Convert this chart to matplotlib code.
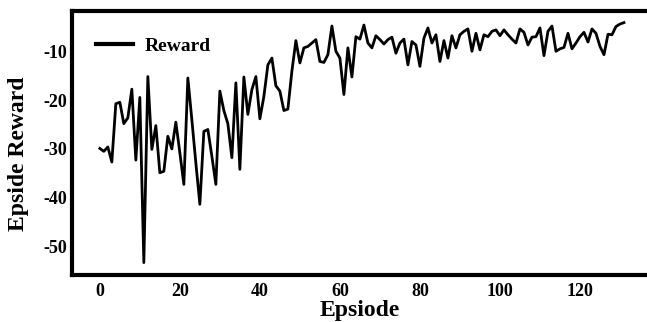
import numpy as np
import matplotlib
matplotlib.use("Agg")
import matplotlib.pyplot as plt

# reward per episode
reward = [
    -29.9, -30.5, -29.6, -32.7, -20.7, -20.4, -24.8, -23.6, -17.7, -32.3,
    -19.4, -53.4, -15.1, -30.1, -25.2, -34.9, -34.6, -27.4, -30.0, -24.5,
    -30.8, -37.3, -15.4, -24.0, -32.9, -41.4, -26.4, -26.0, -31.5, -37.3,
    -18.1, -22.1, -24.8, -31.8, -16.4, -34.2, -15.2, -22.9, -17.8, -15.1,
    -23.8, -19.2, -12.7, -11.3, -17.0, -18.1, -22.1, -21.8, -14.0, -7.7,
    -12.3, -9.2, -8.9, -8.2, -7.5, -12.0, -12.2, -10.6, -4.7, -9.9,
    -11.3, -18.8, -9.2, -15.2, -6.9, -7.4, -4.5, -8.2, -9.2, -6.7,
    -7.5, -8.4, -7.5, -7.0, -10.3, -8.2, -7.4, -12.7, -7.9, -8.6,
    -13.0, -7.2, -5.1, -8.2, -6.5, -12.0, -7.7, -11.3, -6.7, -9.2,
    -6.5, -5.8, -5.3, -9.9, -6.2, -9.6, -6.5, -6.9, -5.8, -5.5,
    -6.7, -5.5, -6.5, -7.4, -8.2, -5.3, -6.0, -8.6, -7.0, -6.9,
    -5.1, -10.8, -5.8, -4.7, -9.9, -9.4, -9.1, -6.2, -9.4, -8.2,
    -6.9, -6.0, -8.0, -5.3, -6.2, -8.9, -10.6, -6.4, -6.5, -4.8,
    -4.3, -4.0,
]
episode = np.arange(len(reward))

x_ticks = [0, 20, 40, 60, 80, 100, 120]
y_ticks = [-50, -40, -30, -20, -10]

plt.rcParams["font.family"] = "Liberation Serif"
plt.rcParams["font.weight"] = "bold"
plt.rcParams["axes.unicode_minus"] = False

fig = plt.figure(figsize=(6.47, 3.22), dpi=100)
ax = fig.add_axes([0.111, 0.146, 0.889, 0.82])

ax.plot(episode, reward, color="black", linewidth=2.0, label="Reward")

ax.set_xlim(-7, 136.75)
ax.set_ylim(-55.95, -1.6)
ax.set_xticks(x_ticks)
ax.set_yticks(y_ticks)
ax.tick_params(axis="both", length=0, labelsize=13)
ax.tick_params(axis="x", pad=5.5)
ax.tick_params(axis="y", pad=3.5)
for lab in ax.get_xticklabels() + ax.get_yticklabels():
    lab.set_fontweight("bold")

for side in ["left", "bottom", "top"]:
    ax.spines[side].set_linewidth(3)
ax.spines["right"].set_visible(False)

ax.set_xlabel("Epsiode", fontsize=17, fontweight="bold", labelpad=0)
ax.set_ylabel("Epside Reward", fontsize=17, fontweight="bold")
ax.yaxis.set_label_coords(-0.075, 0.46)

leg = ax.legend(loc="upper left", frameon=False, fontsize=14,
                handlelength=1.9, handletextpad=0.6,
                bbox_to_anchor=(0.011, 0.965))
for h in leg.get_lines():
    h.set_linewidth(3)

fig.savefig("out.png", dpi=100)
